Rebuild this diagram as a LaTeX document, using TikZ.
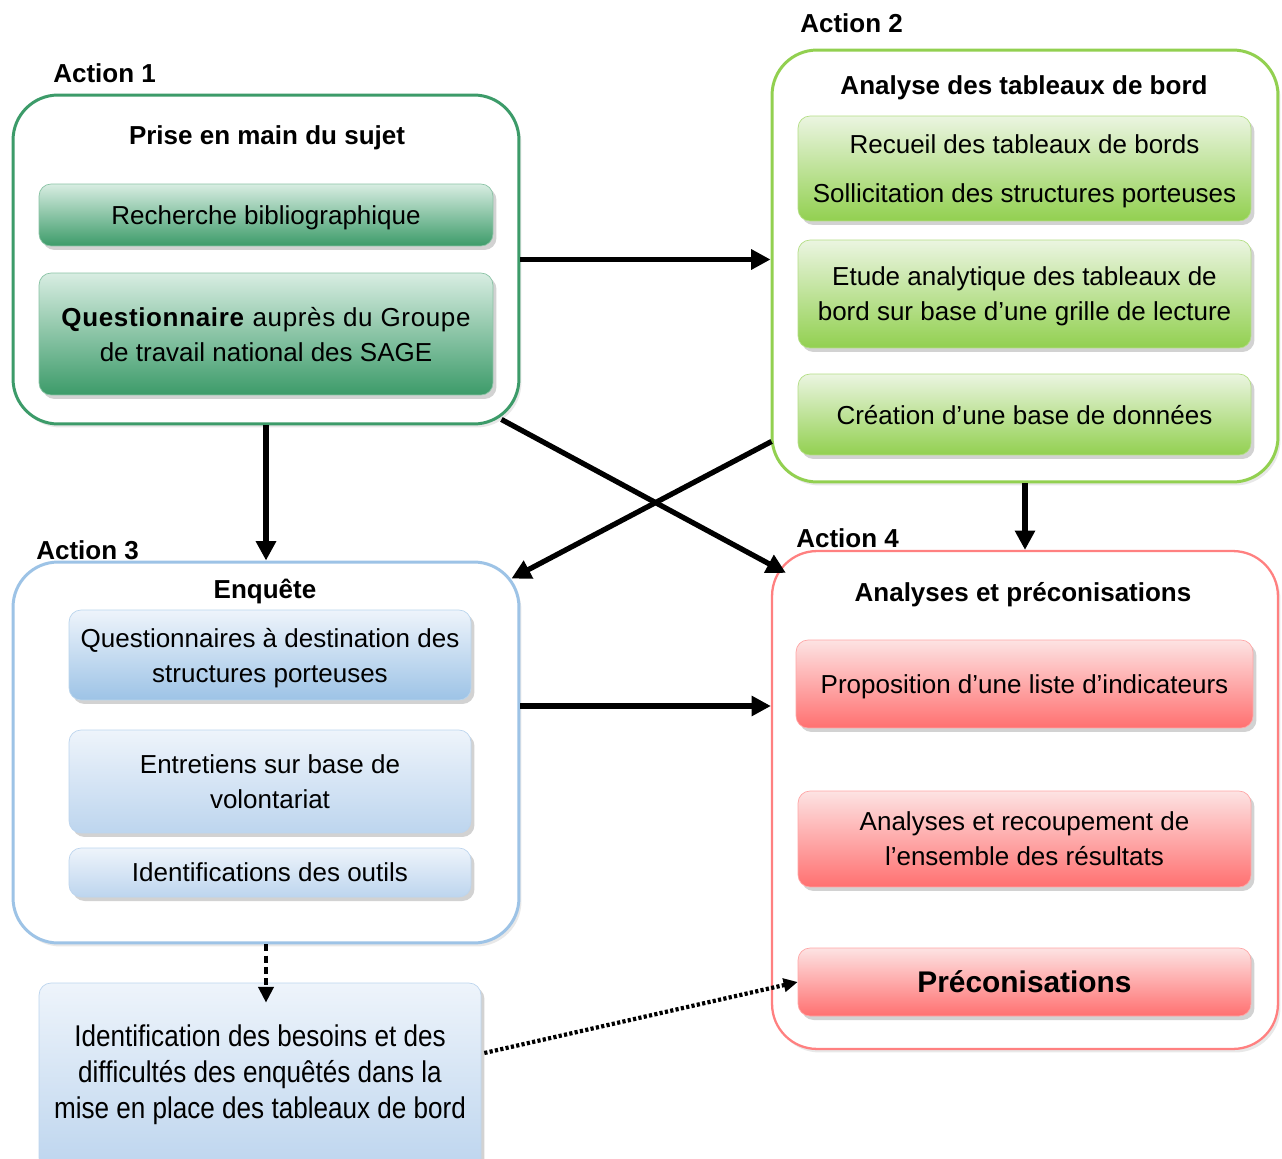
\documentclass[tikz,border=0pt]{standalone}
\usepackage{fontspec}
\setmainfont{Liberation Sans}
\newfontfamily\narrowfont[FakeStretch=0.87]{Liberation Sans}
\usetikzlibrary{arrows.meta,shadows,calc}
\newcommand\mainfs{\fontsize{14.8}{19.9}\selectfont}
\definecolor{gA}{HTML}{3C9B69}
\definecolor{gAlight}{HTML}{D8EDE2}
\definecolor{gB}{HTML}{92D050}
\definecolor{gBlight}{HTML}{EBF5E1}
\definecolor{bC}{HTML}{9DC3E6}
\definecolor{bClight}{HTML}{EEF4FB}
\definecolor{bCmid}{HTML}{BDD5EE}
\definecolor{rD}{HTML}{FF8080}
\definecolor{rDdark}{HTML}{FF7070}
\definecolor{rDlight}{HTML}{FDE3E3}
\tikzset{
  outerbox/.style={draw, line width=1.7pt, rounded corners=0.9cm, fill=white,
    drop shadow={shadow xshift=0.05cm, shadow yshift=-0.07cm, opacity=0.18},
    minimum width=10.12cm, inner sep=0pt},
  innerbox/.style={rounded corners=0.24cm, align=center, font=\mainfs, inner sep=0pt,
    line width=0.4pt, text depth=0pt,
    drop shadow={shadow xshift=0.07cm, shadow yshift=-0.08cm, opacity=0.35}},
  grA/.style={innerbox, top color=gAlight, bottom color=gA, draw=gA!60},
  grB/.style={innerbox, top color=gBlight, bottom color=gB, draw=gB!70},
  grC/.style={innerbox, top color=bClight, bottom color=bC, draw=bC!70},
  grCl/.style={innerbox, top color=bClight, bottom color=bCmid, draw=bCmid},
  grD/.style={innerbox, top color=rDlight, bottom color=rDdark, draw=rD!70},
  lbl/.style={anchor=base west, font=\mainfs\bfseries, inner sep=0pt},
  ttl/.style={anchor=base, font=\mainfs\bfseries, inner sep=0pt},
  arr/.style={line width=3pt, -{Triangle[length=11pt,width=11pt]}},
  dotv/.style={line width=2.8pt, dash pattern=on 4pt off 2.4pt, -{Triangle[length=9pt,width=8.5pt]}},
  dotd/.style={line width=2.4pt, dash pattern=on 1.8pt off 1.3pt, -{Triangle[length=8pt,width=7.5pt]}}
}
\begin{document}
\begin{tikzpicture}[x=0.02cm,y=-0.02cm]
\useasboundingbox (0,0) rectangle (1282,1159);
\fill[white] (0,0) rectangle (1282,1159);

% outer boxes
\node[outerbox, draw=gA, minimum height=6.58cm] (a1) at (266,259.5) {};
\node[outerbox, draw=gB, minimum height=8.64cm] (a2) at (1025,266) {};
\node[outerbox, draw=bC, minimum height=7.62cm] (a3) at (266,752.5) {};
\node[outerbox, draw=rD, line width=1.3pt, minimum height=9.96cm] (a4) at (1025,800) {};

% labels
\node[lbl] (l1) at (53,83) {Action 1};
\node[lbl] (l2) at (800,33) {Action 2};
\node[lbl] (l3) at (36,559) {Action 3};
\node[lbl] (l4) at (796,547) {Action 4};

% titles
\node[ttl] (t1) at (267,145) {Prise en main du sujet};
\node[ttl] (t2) at (1024,95) {Analyse des tableaux de bord};
\node[ttl] (t3) at (265,598) {Enquête};
\node[ttl] (t4) at (1023,601) {Analyses et préconisations};

% Action 1 inner
\node[grA, minimum width=9.08cm, minimum height=1.24cm] (r1) at (266,215) {Recherche bibliographique};
\node[grA, minimum width=9.08cm, minimum height=2.44cm] (q1) at (266,334) {{\addfontfeature{LetterSpace=2.5}\textbf{Questionnaire} auprès du Groupe}\\de travail national des SAGE};

% Action 2 inner
\node[grB, minimum width=9.06cm, minimum height=2.1cm] (b1) at (1024.5,168.5) {Recueil des tableaux de bords\\[0.28cm]Sollicitation des structures porteuses};
\node[grB, minimum width=9.06cm, minimum height=2.16cm] (b2) at (1024.5,294) {Etude analytique des tableaux de\\bord sur base d’une grille de lecture};
\node[grB, minimum width=9.06cm, minimum height=1.62cm] (b3) at (1024.5,414.5) {Création d’une base de données};

% Action 3 inner
\node[grC, minimum width=8.04cm, minimum height=1.8cm] (e1) at (270,655) {Questionnaires à destination des\\structures porteuses};
\node[grCl, minimum width=8.04cm, minimum height=2.06cm] (e2) at (270,781.5) {Entretiens sur base de\\volontariat};
\node[grCl, minimum width=8.04cm, minimum height=0.98cm] (e3) at (270,872.5) {Identifications des outils};

% Action 4 inner
\node[grD, minimum width=9.14cm, minimum height=1.76cm] (p1) at (1024.5,684) {Proposition d’une liste d’indicateurs};
\node[grD, minimum width=9.06cm, minimum height=1.92cm] (p2) at (1024.5,839) {Analyses et recoupement de\\l’ensemble des résultats};
\node[grD, minimum width=9.06cm, minimum height=1.36cm, font=\fontsize{17}{20}\selectfont\bfseries] (p3) at (1024.5,982) {Préconisations};

% bottom box
\node[grCl, minimum width=8.84cm, minimum height=3.74cm, text depth=0.18cm, font=\narrowfont\fontsize{17.07}{20.5}\selectfont] (bb) at (260,1076.5) {Identification des besoins et des\\difficultés des enquêtés dans la\\mise en place des tableaux de bord};

% connectors
\draw[arr] (a1.east) -- (a1.east -| a2.west);
\draw[arr] (a1.south) -- (a3.north);
\draw[arr] ([shift={(-19,-6)}]a1.south east) -- ([shift={(15,23)}]a4.north west);
\draw[arr] ([shift={(1,-42)}]a2.south west) -- ([shift={(-9,18)}]a3.north east);
\draw[arr] (a2.south) -- (a4.north);
\draw[arr] ([shift={(0,-46.5)}]a3.east) -- ([shift={(0,-94)}]a4.west);
\draw[dotv] (a3.south) -- ([shift={(6,20)}]bb.north);
\draw[dotd] ([shift={(3,-23.5)}]bb.east) -- (p3.west);
\end{tikzpicture}
\end{document}
